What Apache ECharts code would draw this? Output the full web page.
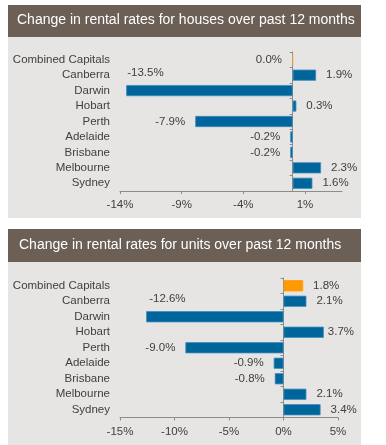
<!DOCTYPE html>
<html>
<head>
<meta charset="utf-8">
<script src="https://cdn.jsdelivr.net/npm/echarts@6/dist/echarts.min.js"></script>
<style>
  html, body { margin: 0; padding: 0; background: #ffffff; }
  #chart { width: 386px; height: 445px; }
</style>
</head>
<body>
<div id="chart"></div>
<script>
// ---- data ----
const categories = ['Combined Capitals', 'Canberra', 'Darwin', 'Hobart', 'Perth', 'Adelaide', 'Brisbane', 'Melbourne', 'Sydney'];
const housesValues = [0.0, 1.9, -13.5, 0.3, -7.9, -0.2, -0.2, 2.3, 1.6];
const unitsValues = [1.8, 2.1, -12.6, 3.7, -9.0, -0.9, -0.8, 2.1, 3.4];
const housesTicks = [-14, -9, -4, 1];
const unitsTicks = [-15, -10, -5, 0, 5];
const housesTitle = 'Change in rental rates for houses over past 12 months';
const unitsTitle = 'Change in rental rates for units over past 12 months';

const FONT = 'Liberation Sans, Arial, sans-serif';
const BLUE = '#00659A';
const ORANGE = '#FF9900';
const TEXT = '#404040';
const AXIS = '#8C8C8C';
const PANEL = '#E6E5E3';
const HEAD = '#6B5F56';

function buildItems(values, highlightFirst, specials) {
  return values.map((v, i) => {
    const isCC = i === 0;
    const item = {
      value: v,
      itemStyle: {
        color: (isCC && highlightFirst) ? ORANGE : BLUE,
        borderColor: isCC ? (highlightFirst ? ORANGE : '#D9A04A') : '#3F8DBF',
        borderWidth: isCC && !highlightFirst ? 1.2 : 0.8
      },
      label: {
        show: true,
        position: v > 0 ? 'right' : 'left',
        distance: 10
      }
    };
    if (specials && specials[i]) Object.assign(item.label, specials[i]);
    return item;
  });
}

const chart = echarts.init(document.getElementById('chart'), null, { renderer: 'canvas' });

const labelStyle = { color: TEXT, fontSize: 11.5, fontFamily: FONT, interval: 0 };

const option = {
  backgroundColor: '#ffffff',
  animation: false,
  title: [
    { text: housesTitle, left: 17, top: 13, padding: 0,
      textStyle: { color: '#ffffff', fontSize: 14, fontWeight: 'normal', fontFamily: FONT } },
    { text: unitsTitle, left: 19, top: 238, padding: 0,
      textStyle: { color: '#ffffff', fontSize: 14, fontWeight: 'normal', fontFamily: FONT } }
  ],
  graphic: [
    { type: 'rect', z: -10, shape: { x: 8, y: 5, width: 353, height: 32 }, style: { fill: HEAD } },
    { type: 'rect', z: -10, shape: { x: 8, y: 37, width: 353, height: 181 }, style: { fill: PANEL } },
    { type: 'rect', z: -10, shape: { x: 8, y: 229, width: 353, height: 33 }, style: { fill: HEAD } },
    { type: 'rect', z: -10, shape: { x: 8, y: 262, width: 353, height: 183 }, style: { fill: PANEL } }
  ],
  grid: [
    { left: 120, top: 52, width: 222, height: 139 },
    { left: 120, top: 278, width: 218, height: 139.5 }
  ],
  xAxis: [
    {
      gridIndex: 0, type: 'value', min: -14, max: 4,
      splitLine: { show: false },
      axisLine: { show: true, lineStyle: { color: AXIS } },
      axisTick: { show: true, length: 3, lineStyle: { color: AXIS }, customValues: housesTicks },
      axisLabel: { color: TEXT, fontSize: 11.5, fontFamily: FONT, margin: 8,
        customValues: housesTicks, formatter: v => v + '%' }
    },
    {
      gridIndex: 1, type: 'value', min: -15, max: 5, interval: 5,
      splitLine: { show: false },
      axisLine: { show: true, lineStyle: { color: AXIS } },
      axisTick: { show: true, length: 3, lineStyle: { color: AXIS } },
      axisLabel: { color: TEXT, fontSize: 11.5, fontFamily: FONT, margin: 8,
        formatter: v => v + '%' }
    }
  ],
  yAxis: [
    { gridIndex: 0, type: 'category', data: categories, inverse: true, position: 'left',
      axisLine: { show: false, onZero: false }, axisTick: { show: false },
      axisLabel: Object.assign({ margin: 10 }, labelStyle) },
    { gridIndex: 0, type: 'category', data: categories, inverse: true, position: 'left',
      axisLine: { show: true, onZero: true, lineStyle: { color: AXIS } },
      axisTick: { show: true, length: 3, interval: 0, lineStyle: { color: AXIS } },
      axisLabel: { show: false } },
    { gridIndex: 1, type: 'category', data: categories, inverse: true, position: 'left',
      axisLine: { show: false, onZero: false }, axisTick: { show: false },
      axisLabel: Object.assign({ margin: 10 }, labelStyle) },
    { gridIndex: 1, type: 'category', data: categories, inverse: true, position: 'left',
      axisLine: { show: true, onZero: true, lineStyle: { color: AXIS } },
      axisTick: { show: true, length: 3, interval: 0, lineStyle: { color: AXIS } },
      axisLabel: { show: false } }
  ],
  series: [
    {
      type: 'bar', xAxisIndex: 0, yAxisIndex: 0,
      barCategoryGap: '28%',
      label: { color: TEXT, fontSize: 11.5, fontFamily: FONT, formatter: p => p.value.toFixed(1) + '%' },
      data: buildItems(housesValues, false, {
        2: { position: 'insideLeft', distance: 1, offset: [0, -18] }
      })
    },
    {
      type: 'bar', xAxisIndex: 1, yAxisIndex: 2,
      barCategoryGap: '28%',
      label: { color: TEXT, fontSize: 11.5, fontFamily: FONT, formatter: p => p.value.toFixed(1) + '%' },
      data: buildItems(unitsValues, true, {
        2: { position: 'insideLeft', distance: 3, offset: [0, -18] },
        3: { distance: 4 }
      })
    }
  ]
};

chart.setOption(option);
</script>
</body>
</html>
